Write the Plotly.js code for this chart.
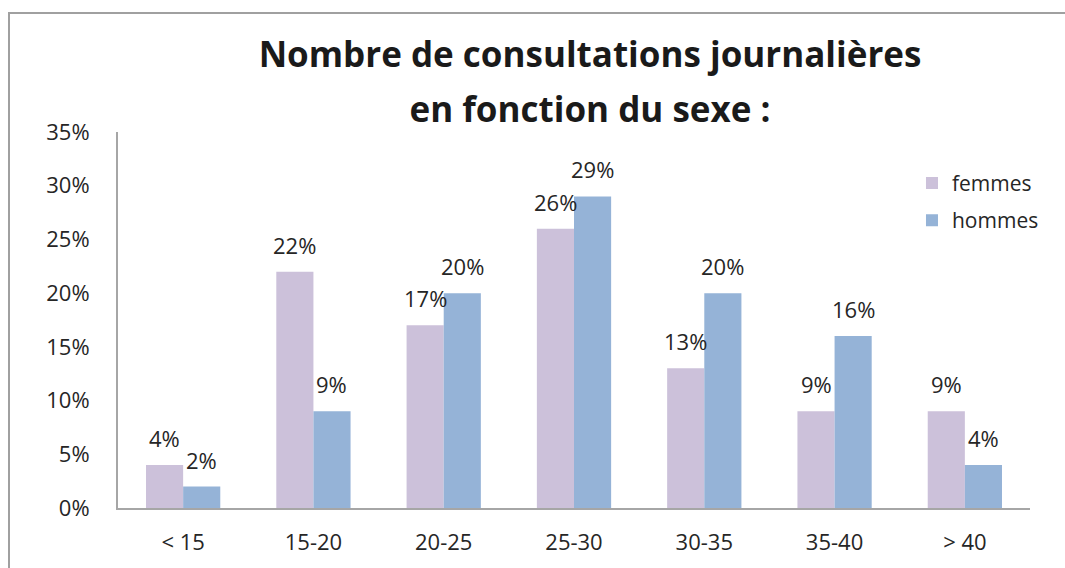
<!DOCTYPE html>
<html>
<head>
<meta charset="utf-8">
<script src="https://cdn.plot.ly/plotly-3.0.1.min.js"></script>
<style>
  html, body { margin: 0; padding: 0; background: #ffffff; overflow: hidden; }
  #chart { position: absolute; left: 0; top: 0; width: 1065px; height: 568px; }
  #frame { position: absolute; left: 8px; top: 12px; width: 1100px; height: 620px;
           border: 2px solid #a0a0a0; pointer-events: none; box-sizing: border-box; }
</style>
</head>
<body>
<div id="chart"></div>
<div id="frame"></div>
<script>
const categories = ["< 15", "15-20", "20-25", "25-30", "30-35", "35-40", "> 40"];
const femmes = [4, 22, 17, 26, 13, 9, 9];
const hommes = [2, 9, 20, 29, 20, 16, 4];
const seriesNames = ["femmes", "hommes"];
const yTicks = [0, 5, 10, 15, 20, 25, 30, 35];

const colors = ["#CCC1DA", "#95B3D7"];
const textColor = "#262626";
const tickFont = { family: "Open Sans, sans-serif", size: 22, color: textColor };
const bargap = 0.43;

const series = [femmes, hommes];
const traces = series.map((vals, s) => ({
  type: "bar",
  name: seriesNames[s],
  x: categories,
  y: vals,
  marker: { color: colors[s], line: { width: 0 } },
  legendgroup: seriesNames[s],
  hoverinfo: "x+y+name"
}));

// data labels via annotations, positioned on each bar's center
const half = (1 - bargap) / 4;
const annotations = [];
series.forEach((vals, s) => {
  vals.forEach((v, i) => {
    annotations.push({
      x: i + (s === 0 ? -half : half),
      y: v,
      xref: "x", yref: "y",
      text: v + "%",
      showarrow: false,
      yanchor: "bottom",
      xanchor: "center",
      yshift: 10,
      font: tickFont
    });
  });
});

const layout = {
  width: 1065,
  height: 568,
  paper_bgcolor: "#ffffff",
  plot_bgcolor: "#ffffff",
  margin: { l: 118, r: 35, t: 132, b: 60, pad: 0 },
  title: {
    text: "<b><span style='font-size:35px'>Nombre de consultations journalières</span><br><span style='font-size:35px'>en fonction du sexe :</span></b>",
    font: { family: "Liberation Sans Narrow, Open Sans, sans-serif", size: 42, color: "#1a1a1a" },
    xref: "container", yref: "container",
    x: 590 / 1065, xanchor: "center",
    y: 1 - 67 / 568, yanchor: "top"
  },
  barmode: "group",
  bargap: bargap,
  bargroupgap: 0,
  showlegend: true,
  legend: {
    x: 0.8706, y: 0.918, xanchor: "left", yanchor: "top",
    font: { family: "Open Sans, sans-serif", size: 21, color: textColor },
    bgcolor: "rgba(0,0,0,0)",
    traceorder: "grouped",
    tracegroupgap: 7
  },
  xaxis: {
    type: "category",
    showline: true, linecolor: "#a6a6a6", linewidth: 2,
    ticks: "", showgrid: false, zeroline: false,
    tickfont: tickFont,
    ticklabelstandoff: 14,
    fixedrange: true
  },
  yaxis: {
    range: [0, 35],
    tickvals: yTicks,
    ticktext: yTicks.map(t => t + "%"),
    showline: true, linecolor: "#a6a6a6", linewidth: 2,
    ticks: "", showgrid: false, zeroline: false,
    tickfont: tickFont,
    ticklabelstandoff: 22,
    fixedrange: true
  },
  annotations: annotations
};

Plotly.newPlot("chart", traces, layout, { displayModeBar: false, staticPlot: true });
</script>
</body>
</html>
